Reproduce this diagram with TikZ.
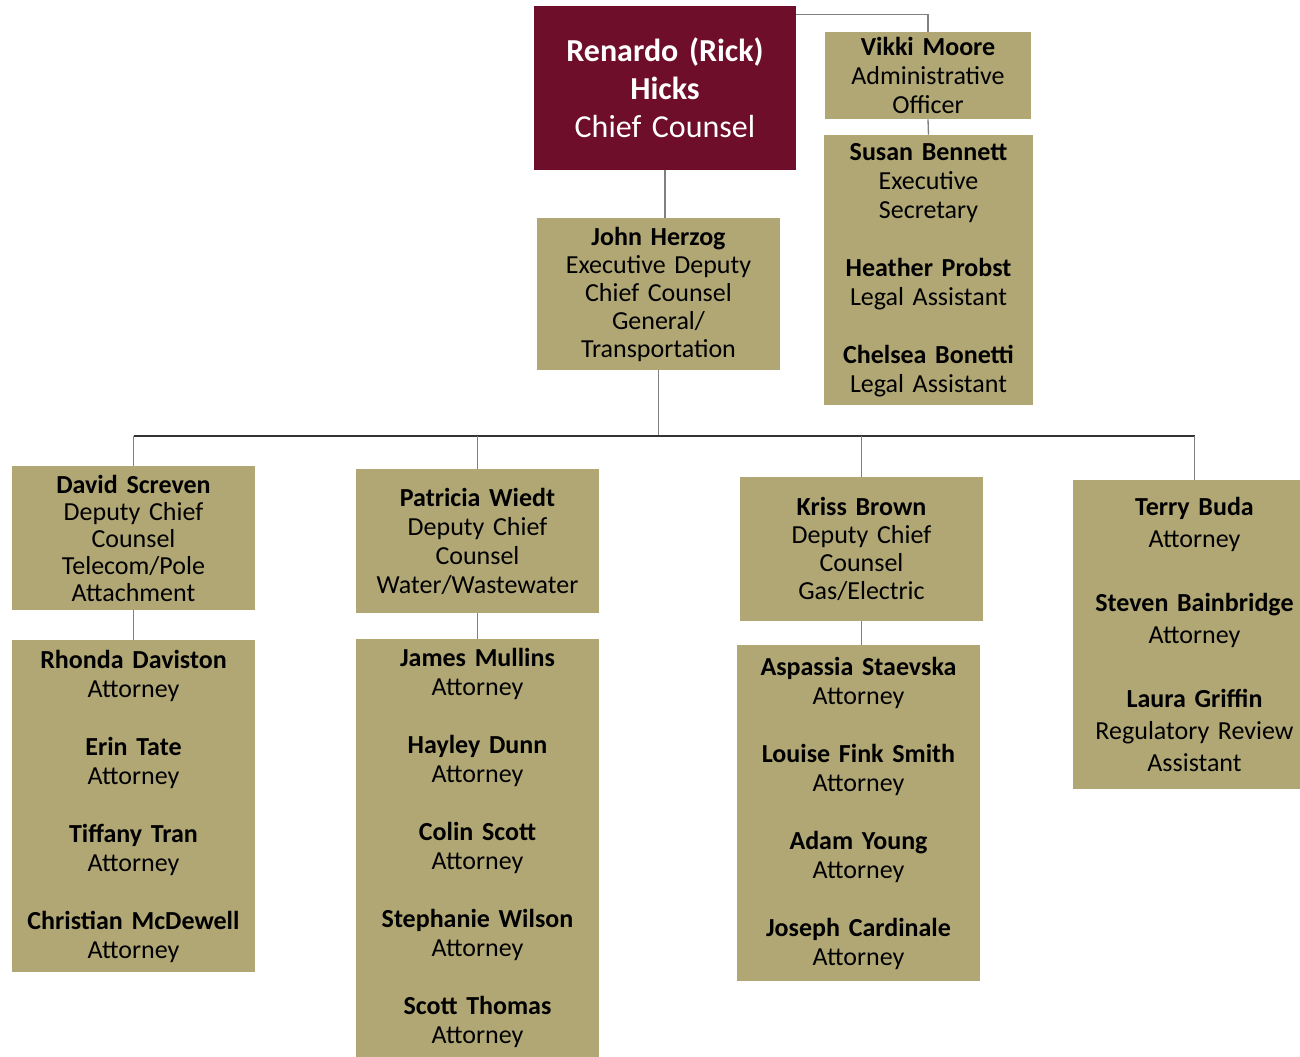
\documentclass[tikz,border=0pt]{standalone}
\usepackage{fontspec}
\setmainfont{Carlito}
\usepackage{tikz}
\usetikzlibrary{positioning}
\definecolor{boxtan}{RGB}{176,167,116}
\definecolor{wine}{RGB}{111,14,43}
\definecolor{linkgray}{RGB}{128,128,128}

\begin{document}
\begin{tikzpicture}[x=0.75pt, y=-0.75pt,
        staff/.style={fill=boxtan, text=black, align=center, inner sep=0pt,
            text width=172.5pt, minimum width=182.25pt,
            font=\fontsize{19.5}{21.75}\selectfont},
        link/.style={draw=linkgray, line width=1pt},
        bus/.style={draw=black!80, line width=1pt}]
        \useasboundingbox (0,0) rectangle (1300,1057);
        \clip (0,0) rectangle (1300,1057);
        % top of the office
        \node[staff, fill=wine, text=white, minimum width=196.5pt, text width=190pt, minimum height=123pt,
            font=\fontsize{24}{28.5}\selectfont] (chief) at (665,88)
            {\textbf{Renardo (Rick)}\\\textbf{Hicks}\\Chief Counsel};
        \node[staff, minimum width=154.5pt, text width=150pt, minimum height=65.25pt] (vikki) at (928,75.5)
            {\textbf{Vikki Moore}\\Administrative\\Officer};
        \node[staff, minimum width=156.75pt, text width=152pt, minimum height=202.5pt] (susan) at (928.5,270)
            {\textbf{Susan Bennett}\\Executive\\Secretary\\[\baselineskip]
             \textbf{Heather Probst}\\Legal Assistant\\[\baselineskip]
             \textbf{Chelsea Bonetti}\\Legal Assistant};
        \node[staff, minimum height=114pt, font=\fontsize{19.5}{21}\selectfont] (john) at (658.5,294)
            {\textbf{John Herzog}\\Executive Deputy\\Chief Counsel\\General/\\Transportation};
        % deputies
        \node[staff, minimum height=108pt, font=\fontsize{19.5}{20.25}\selectfont] (david) at (133.5,538)
            {\textbf{David Screven}\\Deputy Chief\\Counsel\\Telecom/Pole\\Attachment};
        \node[staff, minimum height=108pt] (patricia) at (477.5,541)
            {\textbf{Patricia Wiedt}\\Deputy Chief\\Counsel\\Water/Wastewater};
        \node[staff, minimum height=108pt, font=\fontsize{19.5}{21}\selectfont] (kriss) at (861.5,549)
            {\textbf{Kriss Brown}\\Deputy Chief\\Counsel\\Gas/Electric};
        \node[staff, minimum height=231.75pt, font=\fontsize{19.5}{24}\selectfont] (terry) at (1194.5,634.5)
            {\textbf{Terry Buda}\\Attorney\\[\baselineskip]
             \textbf{Steven Bainbridge}\\Attorney\\[\baselineskip]
             \textbf{Laura Griffin}\\Regulatory Review\\Assistant};
        % attorneys
        \node[staff, minimum height=249pt] (rhonda) at (133.5,806)
            {\textbf{Rhonda Daviston}\\Attorney\\[\baselineskip]
             \textbf{Erin Tate}\\Attorney\\[\baselineskip]
             \textbf{Tiffany Tran}\\Attorney\\[\baselineskip]
             \textbf{Christian McDewell}\\Attorney};
        \node[staff, minimum height=313.5pt] (james) at (477.5,848)
            {\textbf{James Mullins}\\Attorney\\[\baselineskip]
             \textbf{Hayley Dunn}\\Attorney\\[\baselineskip]
             \textbf{Colin Scott}\\Attorney\\[\baselineskip]
             \textbf{Stephanie Wilson}\\Attorney\\[\baselineskip]
             \textbf{Scott Thomas}\\Attorney};
        \node[staff, minimum height=252pt] (aspassia) at (858.5,813)
            {\textbf{Aspassia Staevska}\\Attorney\\[\baselineskip]
             \textbf{Louise Fink Smith}\\Attorney\\[\baselineskip]
             \textbf{Adam Young}\\Attorney\\[\baselineskip]
             \textbf{Joseph Cardinale}\\Attorney};
        % lines
        \coordinate (bus) at (662,436);
        \draw[link] ([yshift=-6.75pt]chief.north east) -| (vikki.north);
        \draw[link] (vikki.south) -- (susan.north);
        \draw[link] (chief.south) -- (chief.south |- john.north);
        \draw[link] (john.south) -- (john.south |- bus);
        \draw[bus] (david.north |- bus) -- (terry.north |- bus);
        \draw[link] (david.north) -- (david.north |- bus);
        \draw[link] (patricia.north) -- (patricia.north |- bus);
        \draw[link] (kriss.north) -- (kriss.north |- bus);
        \draw[link] (terry.north) -- (terry.north |- bus);
        \draw[link] (david) -- (rhonda);
        \draw[link] (patricia) -- (james);
        \draw[link] (kriss.south) -- (kriss.south |- aspassia.north);
    \end{tikzpicture}
\end{document}
